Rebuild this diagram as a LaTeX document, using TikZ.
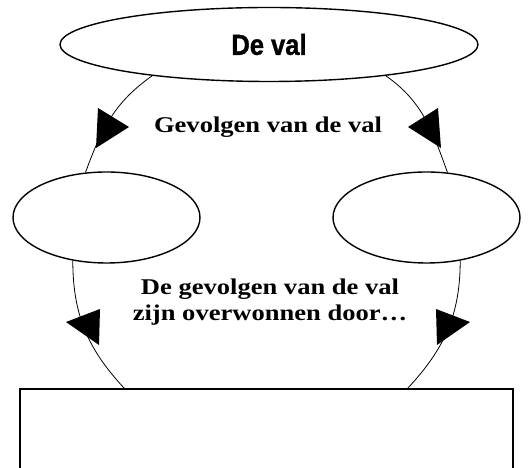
\documentclass[tikz,border=0pt]{standalone}
\usepackage{fontspec}
\setmainfont{Liberation Serif}
\newfontfamily\titlefont[FakeStretch=0.88,FakeBold=1.2]{Liberation Sans}
\newfontfamily\labelfont[FakeStretch=1.18]{Liberation Serif}
\usetikzlibrary{positioning,shapes.geometric}

\begin{document}
\begin{tikzpicture}[x=1pt, y=1pt,
  oval/.style={draw, ellipse, line width=1.4pt, inner sep=0pt},
  box/.style={draw, rectangle, line width=1.4pt, inner sep=0pt},
  link/.style={line width=0.8pt},
  pointer/.style={fill=black},
  caption/.style={font=\labelfont\bfseries\fontsize{22.5}{26}\selectfont, align=center}
]
  \useasboundingbox (0,0) rectangle (528,468);

  \node[oval, minimum width=418pt, minimum height=74pt,
        font=\titlefont\bfseries\fontsize{29}{32}\selectfont] (val) at (269,423.5) {De val};
  \node[oval, minimum width=187pt, minimum height=91pt] (links) at (106.5,250.5) {};
  \node[oval, minimum width=187pt, minimum height=91pt] (rechts) at (426.5,250.5) {};
  \node[box, minimum width=493pt, minimum height=91pt] (overwon) at (266.5,33.5) {};

  \node[caption, anchor=base] (gevolgen) at (268,335) {Gevolgen van de val};
  \node[caption] (overwonnen) at (270,166) {De gevolgen van de val\\zijn overwonnen door…};

  % ring of connectors
  \draw[link] (val.195) to[out=215, in=70] (links.115);
  \draw[link] (val.345) to[out=325, in=110] (rechts.65);
  \draw[link] (links.232) to[out=270, in=133] ([xshift=105pt]overwon.north west);
  \draw[link] (rechts.308) to[out=270, in=47] ([xshift=-106pt]overwon.north east);

  % heads
  \fill[pointer] (98,360) -- (129,341) -- (96,320) -- cycle;
  \fill[pointer] (438,360) -- (408,341) -- (441,320) -- cycle;
  \fill[pointer] (66,146) -- (100,159) -- (99,123) -- cycle;
  \fill[pointer] (470,146) -- (436,159) -- (437,123) -- cycle;
\end{tikzpicture}
\end{document}
